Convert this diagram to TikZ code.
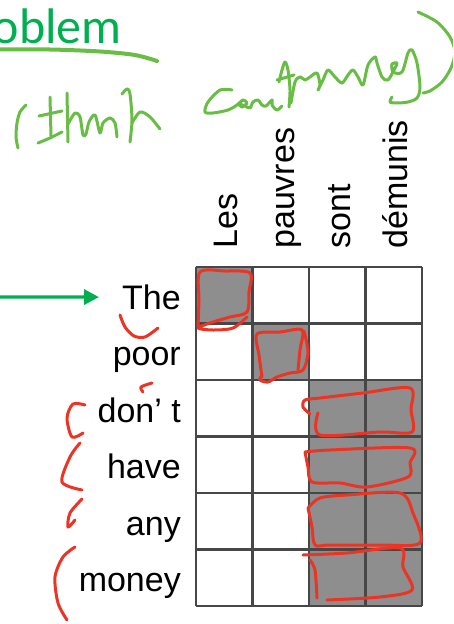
\documentclass[tikz,border=0pt]{standalone}
\usepackage{fontspec}
\setmainfont{Liberation Sans}
\newfontfamily\headfont{Carlito}
\usetikzlibrary{arrows.meta}

\definecolor{headgreen}{RGB}{0,176,80}
\definecolor{pengreen}{RGB}{104,189,69}
\definecolor{penred}{RGB}{236,52,36}
\definecolor{cellgray}{RGB}{142,142,142}

\tikzset{
  word/.style={font=\fontsize{34}{40}\selectfont, inner sep=0pt},
  pen/.style={line width=3pt, line cap=round, line join=round},
  greenpen/.style={pen, draw=pengreen},
  redpen/.style={pen, draw=penred},
}

\begin{document}
\begin{tikzpicture}[x=1pt,y=-1pt]
	\useasboundingbox (0,0) rectangle (453,624);
	\clip (0,0) rectangle (453,624);

	% heading, cut at the left border, with its pen underline
	\node[font=\headfont\fontsize{50}{60}\selectfont, text=headgreen, inner sep=0pt, anchor=base east] (heading) at (122,43) {oblem};
	\draw[pen, draw=pengreen, line width=4pt] plot[smooth] coordinates {(-5,49.5) (50,49.5) (100,51.5) (135,55) (157,61)};

	% shaded cells
	\fill[cellgray] (196,267) rectangle ++(56.5,56.5);
	\fill[cellgray] (252.5,323.5) rectangle ++(56.5,56.5);
	\fill[cellgray] (309,380) rectangle ++(56.5,56.5);
	\fill[cellgray] (365.5,380) rectangle ++(56.5,56.5);
	\fill[cellgray] (309,436.5) rectangle ++(56.5,56.5);
	\fill[cellgray] (365.5,436.5) rectangle ++(56.5,56.5);
	\fill[cellgray] (309,493) rectangle ++(56.5,56.5);
	\fill[cellgray] (365.5,493) rectangle ++(56.5,56.5);
	\fill[cellgray] (309,549.5) rectangle ++(56.5,56.5);
	\fill[cellgray] (365.5,549.5) rectangle ++(56.5,56.5);

	\draw[xshift=196pt, yshift=-267pt, black!72, line width=2.5pt] (0pt,-339.01pt) grid[xstep=56.5pt, ystep=56.5pt] (226.01pt,0pt);

	% english words
	\node[word, anchor=base east] (the) at (181,309.25) {The};
	\node[word, anchor=base east] (poor) at (181,365.75) {poor};
	\node[word, anchor=base east] (dont) at (181,422.25) {don’ t};
	\node[word, anchor=base east] (have) at (181,478.75) {have};
	\node[word, anchor=base east] (any) at (181,535.25) {any};
	\node[word, anchor=base east] (money) at (181,591.75) {money};

	% french words
	\node[word, rotate=90, anchor=base west] (les) at (237.75,249) {Les};
	\node[word, rotate=90, anchor=base west] (pauvres) at (294.25,249) {pauvres};
	\node[word, rotate=90, anchor=base west] (sont) at (350.75,249) {sont};
	\node[word, rotate=90, anchor=base west] (demunis) at (407.25,249) {démunis};

	\coordinate (arrowtail) at (-2,297);
	\draw[headgreen, line width=3.3pt, -{Triangle[length=15pt,width=15pt]}] (arrowtail) -- ([xshift=-23pt]the.west);

	% green pen notes
	\draw[greenpen] plot[smooth] coordinates {(26,105) (20,112) (17,123) (16,137) (18,148)};
	\draw[greenpen] (50,97) -- (51,136);
	\draw[greenpen] (39,116) -- (62,111);
	\draw[greenpen] plot[smooth] coordinates {(38,143) (50,138) (62,132)};
	\draw[greenpen] (67,93) -- (68,142);
	\draw[greenpen] plot[smooth] coordinates {(68,124) (75,113) (80,117) (83,135) (86,134) (89,122) (95,115) (100,133) (103,123) (110,118) (115,123) (117,137)};
	\draw[greenpen] plot[smooth] coordinates {(122,94) (127,89) (130,94) (132,120) (130,142)};
	\draw[greenpen] plot[smooth] coordinates {(132,123) (140,112) (150,117) (160,129)};

	\draw[greenpen] plot[smooth] coordinates {(232,90) (220,90) (208,102) (205,112) (213,113) (228,110) (237,105) (243,100) (247,103) (242,107) (239,104) (245,106) (250,108) (253,102) (258,100) (262,105) (266,106) (272,100) (272,105) (277,110) (282,106)};
	\draw[greenpen] plot[smooth] coordinates {(279,82) (282,70) (285,62) (288,70) (290,90) (289,107)};
	\draw[greenpen] (277,80) -- (294,75);
	\draw[greenpen] plot[smooth] coordinates {(291,103) (295,82) (300,77) (305,80) (310,77) (317,73) (320,85) (318,90) (323,80) (328,70) (335,77) (342,83) (348,75) (353,70) (358,77) (363,85) (368,65) (375,57) (377,63) (382,77) (388,80) (395,68) (397,63) (392,64) (393,72) (402,72) (408,53) (412,50) (417,63) (420,87) (417,98) (408,102) (397,103) (390,102) (392,97)};
	\draw[greenpen] plot[smooth] coordinates {(418,12) (437,22) (450,37) (455,52) (451,68) (442,82) (430,91) (423,93)};

	% red pen marks next to the words
	\draw[redpen] plot[smooth] coordinates {(120,315) (125,327) (134,336) (145,337) (158,328)};
	\draw[redpen] plot[smooth] coordinates {(152,383) (141,387) (143,392)};
	\draw[redpen] plot[smooth] coordinates {(85,405) (73,404) (67,418) (72,437) (83,433)};
	\draw[redpen] plot[smooth] coordinates {(80,443) (70,457) (62,482) (82,490)};
	\draw[redpen] plot[smooth] coordinates {(82,499) (70,513) (68,527) (75,520)};
	\draw[redpen] plot[smooth] coordinates {(75,547) (63,557) (55,577) (58,603) (67,620)};

	% red pen boxes round the shaded cells
	\draw[redpen] plot[smooth] coordinates {(198,327) (199,300) (200,272) (225,271) (250,273) (249,292) (247,312) (230,317) (213,322) (198,328) (213,330) (233,328) (247,317)};
	\draw[redpen] plot[smooth] coordinates {(262,377) (259,355) (257,334) (280,332) (302,330) (300,350) (298,370)};
	\draw[redpen] plot[smooth] coordinates {(304,331) (308,352) (303,370) (290,373) (277,377) (268,382) (260,380) (262,375)};
	\draw[redpen] plot[smooth] coordinates {(310,414) (303,407) (305,400) (320,398) (363,393) (410,388) (411,410) (412,432) (380,432) (320,435) (318,413)};
	\draw[redpen] plot[smooth] coordinates {(305,452) (330,450) (410,448) (410,463) (408,477) (367,487) (340,483) (312,482) (308,467) (305,452)};
	\draw[redpen] plot[smooth] coordinates {(308,508) (320,498) (347,495) (400,493) (413,513) (420,543) (380,545) (330,545) (315,545) (312,527) (308,508)};
	\draw[redpen] plot[smooth] coordinates {(303,555) (347,553) (400,548) (403,567) (412,590) (380,597) (327,600)};
	\draw[redpen] plot[smooth] coordinates {(310,560) (315,570) (317,598)};

\end{tikzpicture}
\end{document}
